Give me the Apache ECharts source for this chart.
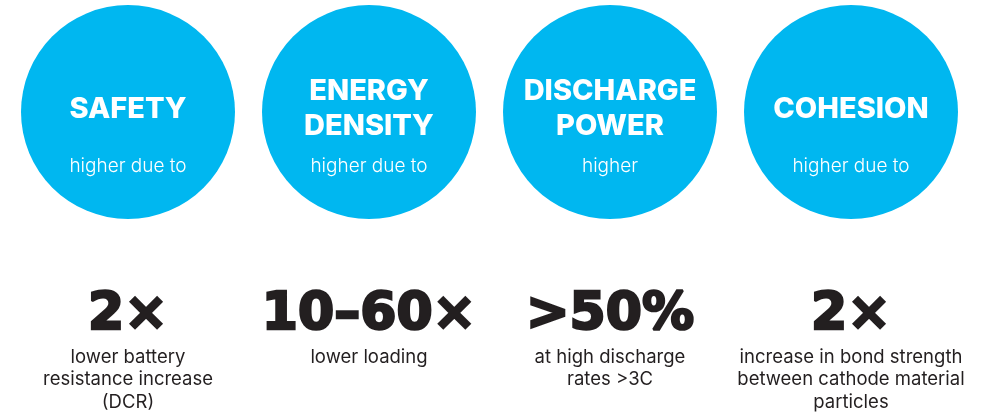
<!DOCTYPE html>
<html>
<head>
<meta charset="utf-8">
<script src="https://cdn.jsdelivr.net/npm/echarts@6/dist/echarts.min.js"></script>
<style>
  html, body { margin: 0; padding: 0; background: #fff; }
  #chart { width: 986px; height: 412px; }
</style>
</head>
<body>
<div id="chart"></div>
<script>
// infographic content
const headings = ['SAFETY', 'ENERGY\nDENSITY', 'DISCHARGE\nPOWER', 'COHESION'];
const subtitles = ['higher due to', 'higher due to', 'higher', 'higher due to'];
const figures = ['2×', '10–60×', '>50%', '2×'];
const notes = [
  'lower battery\nresistance increase\n(DCR)',
  'lower loading',
  'at high discharge\nrates >3C',
  'increase in bond strength\nbetween cathode material\nparticles'
];

const BLUE = '#00b7f0';
const DARK = '#231f20';
const FONT = 'Inter, "Noto Sans", sans-serif';

let myChart = echarts.init(document.getElementById('chart'));

// rows on a hidden pixel-like axis (0 at top)
const rowCircle = 112;
const rowSub = 166;
const rowFigure = 315;
const rowNote = 346;

function row (y) {
  return headings.map((h, i) => ({ value: [h, y], idx: i }));
}

let option = {
  animation: false,
  grid: { left: 7.5, right: 14.5, top: 0, bottom: 0 },
  xAxis: {
    type: 'category',
    data: headings,
    show: false,
    boundaryGap: true
  },
  yAxis: {
    type: 'value',
    min: 0,
    max: 412,
    inverse: true,
    show: false
  },
  series: [
    {
      // circles + headings
      type: 'scatter',
      symbol: 'circle',
      symbolSize: 214,
      itemStyle: { color: BLUE, opacity: 1 },
      label: {
        show: true,
        position: 'inside',
        offset: [0, -3],
        formatter: p => headings[p.dataIndex],
        color: '#fff',
        fontFamily: FONT,
        fontWeight: 800,
        fontSize: 29,
        lineHeight: 35,
        align: 'center'
      },
      data: row(rowCircle)
    },
    {
      type: 'scatter',
      symbolSize: 0,
      silent: true,
      itemStyle: { opacity: 1 },
      label: {
        show: true,
        position: 'inside',
        formatter: p => subtitles[p.dataIndex],
        color: '#fff',
        fontFamily: FONT,
        fontWeight: 300,
        fontSize: 19
      },
      data: row(rowSub)
    },
    {
      type: 'scatter',
      symbolSize: 0,
      silent: true,
      itemStyle: { opacity: 1 },
      label: {
        show: true,
        position: 'inside',
        formatter: p => figures[p.dataIndex],
        color: DARK,
        fontFamily: '"DejaVu Sans", sans-serif',
        fontWeight: 'bold',
        fontSize: 52,
        textBorderColor: DARK,
        textBorderWidth: 2.5
      },
      data: row(rowFigure)
    },
    {
      type: 'scatter',
      symbolSize: 0,
      silent: true,
      itemStyle: { opacity: 1 },
      label: {
        show: true,
        position: 'inside',
        verticalAlign: 'top',
        align: 'center',
        formatter: p => notes[p.dataIndex],
        color: DARK,
        fontFamily: FONT,
        fontWeight: 400,
        fontSize: 18.5,
        lineHeight: 22.5
      },
      data: row(rowNote)
    }
  ]
};

myChart.setOption(option, true);
</script>
</body>
</html>
